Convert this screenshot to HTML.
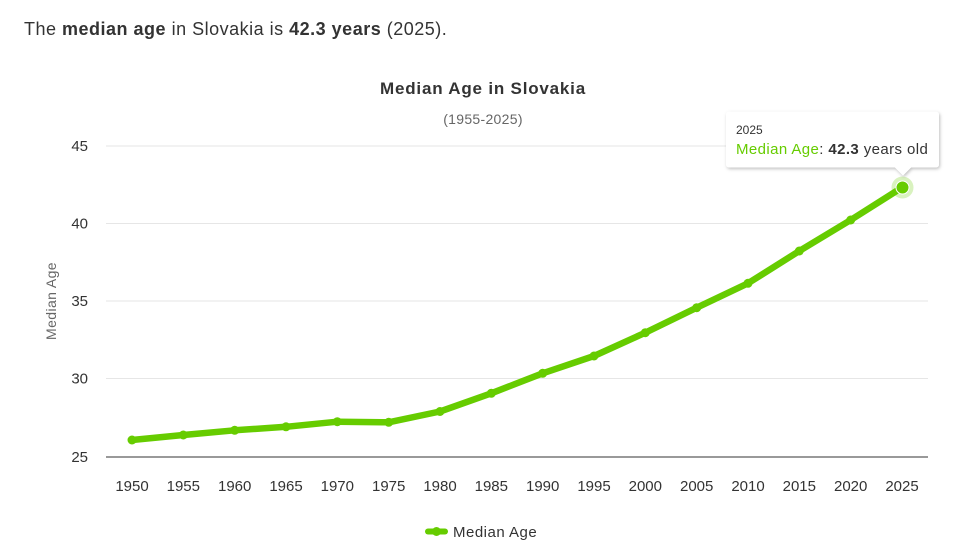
<!DOCTYPE html>
<html><head><meta charset="utf-8"><style>
html,body{margin:0;padding:0;background:#fff;}
body{width:971px;height:556px;overflow:hidden;position:relative;font-family:"Liberation Sans",sans-serif;}
.hdr{position:absolute;left:24px;top:19px;font-size:18px;color:#333;white-space:nowrap;letter-spacing:0.5px;}
.hdr b{color:#333;}
svg{position:absolute;left:0;top:0;}
</style></head><body>
<div class="hdr">The <b>median age</b> in Slovakia is <b>42.3 years</b> (2025).</div>
<svg width="971" height="556" viewBox="0 0 971 556" font-family="Liberation Sans, sans-serif">
<text x="483" y="94" text-anchor="middle" font-size="17" font-weight="bold" fill="#333" letter-spacing="0.8">Median Age in Slovakia</text>
<text x="483" y="124" text-anchor="middle" font-size="14" fill="#666" letter-spacing="0.3">(1955-2025)</text>
<g stroke="#e6e6e6" stroke-width="1">
<line x1="106" y1="146" x2="928" y2="146"/>
<line x1="106" y1="223.5" x2="928" y2="223.5"/>
<line x1="106" y1="301" x2="928" y2="301"/>
<line x1="106" y1="378.5" x2="928" y2="378.5"/>
</g>
<line x1="106" y1="457" x2="928" y2="457" stroke="#333" stroke-width="1"/>
<g font-size="15" fill="#333" text-anchor="end">
<text x="88" y="151">45</text>
<text x="88" y="228.5">40</text>
<text x="88" y="306">35</text>
<text x="88" y="383.5">30</text>
<text x="88" y="462">25</text>
</g>
<text transform="translate(56,301) rotate(-90)" text-anchor="middle" font-size="14" fill="#666" letter-spacing="0.4">Median Age</text>
<g font-size="15" fill="#333" text-anchor="middle">
<text x="132" y="491">1950</text><text x="183.3" y="491">1955</text><text x="234.7" y="491">1960</text><text x="286" y="491">1965</text><text x="337.3" y="491">1970</text><text x="388.7" y="491">1975</text><text x="440" y="491">1980</text><text x="491.3" y="491">1985</text><text x="542.7" y="491">1990</text><text x="594" y="491">1995</text><text x="645.3" y="491">2000</text><text x="696.7" y="491">2005</text><text x="748" y="491">2010</text><text x="799.3" y="491">2015</text><text x="850.7" y="491">2020</text><text x="902" y="491">2025</text>
</g>
<polyline fill="none" stroke="#66cc00" stroke-width="6.5" stroke-linejoin="round" stroke-linecap="round" points="132,440 183.3,435 234.7,430.3 286,426.8 337.3,421.7 388.7,422.3 440,411.5 491.3,393.3 542.7,373.3 594,356 645.3,332.7 696.7,307.7 748,283.3 799.3,251 850.7,220 902,187.5"/>
<g fill="#66cc00">
<circle cx="132" cy="440" r="4.5"/><circle cx="183.3" cy="435" r="4.5"/><circle cx="234.7" cy="430.3" r="4.5"/><circle cx="286" cy="426.8" r="4.5"/><circle cx="337.3" cy="421.7" r="4.5"/><circle cx="388.7" cy="422.3" r="4.5"/><circle cx="440" cy="411.5" r="4.5"/><circle cx="491.3" cy="393.3" r="4.5"/><circle cx="542.7" cy="373.3" r="4.5"/><circle cx="594" cy="356" r="4.5"/><circle cx="645.3" cy="332.7" r="4.5"/><circle cx="696.7" cy="307.7" r="4.5"/><circle cx="748" cy="283.3" r="4.5"/><circle cx="799.3" cy="251" r="4.5"/><circle cx="850.7" cy="220" r="4.5"/>
</g>
<circle cx="902.5" cy="187.5" r="11" fill="#66cc00" fill-opacity="0.25"/>
<circle cx="902.5" cy="187.5" r="6.5" fill="#66cc00" stroke="#fff" stroke-width="1"/>
<defs><filter id="sh" x="-10%" y="-20%" width="120%" height="160%"><feDropShadow dx="1" dy="1.5" stdDeviation="1.5" flood-color="#000" flood-opacity="0.25"/></filter></defs>
<path d="M729,111.5 H936 a3,3 0 0 1 3,3 V164.5 a3,3 0 0 1 -3,3 H911 L903,175.5 L895,167.5 H729 a3,3 0 0 1 -3,-3 V114.5 a3,3 0 0 1 3,-3 Z" fill="#fff" filter="url(#sh)"/>
<text x="736" y="134" font-size="12" fill="#333">2025</text>
<text x="736" y="154" font-size="15" fill="#333" letter-spacing="0.4"><tspan fill="#66cc00">Median Age</tspan>: <tspan font-weight="bold">42.3</tspan> years old</text>
<line x1="428" y1="531.5" x2="445" y2="531.5" stroke="#66cc00" stroke-width="6" stroke-linecap="round"/>
<circle cx="436.5" cy="531.5" r="4.5" fill="#66cc00"/>
<text x="453" y="537" font-size="15" fill="#333" letter-spacing="0.5">Median Age</text>
</svg>
</body></html>
